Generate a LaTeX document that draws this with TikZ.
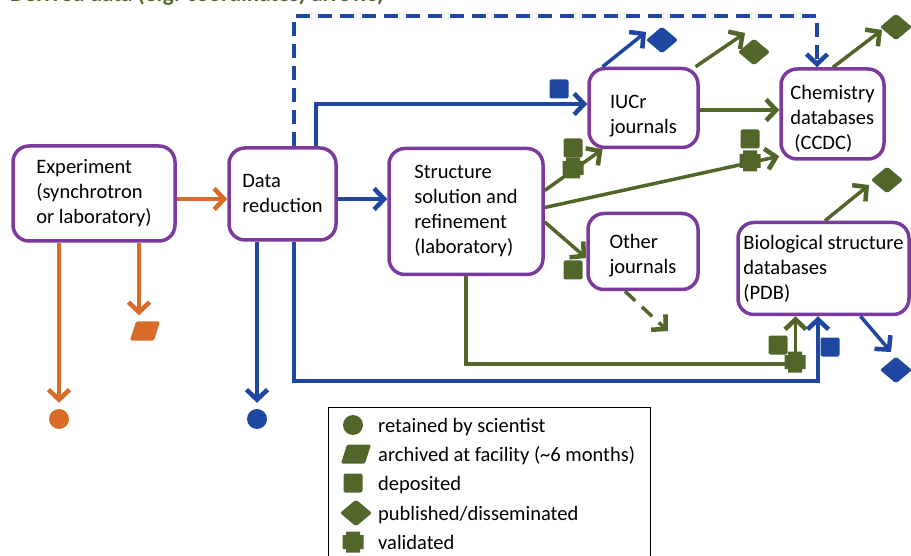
\documentclass[tikz,border=0pt]{standalone}
\usepackage{fontspec}
\setmainfont{Carlito}
\usetikzlibrary{arrows.meta,shapes.geometric}

\definecolor{boxpurple}{HTML}{7B3A9C}
\definecolor{rawor}{HTML}{D96B28}
\definecolor{procblue}{HTML}{1F46A0}
\definecolor{derivgreen}{HTML}{52662A}
\newcommand\boxfont{\fontsize{20.5}{25}\selectfont}

\begin{document}
\begin{tikzpicture}[x=1pt,y=-1pt,
    stage/.style={draw=boxpurple, line width=3.5pt, rounded corners=16pt, align=left, inner sep=0pt, font=\boxfont},
    flow/.style={line width=3.5pt, -{Straight Barb[length=10pt,width=21pt,line width=0pt 1.3]}},
    retained/.style={circle, fill=#1, minimum size=20pt, inner sep=0pt},
    retained/.default=derivgreen,
    archived/.style={rectangle, minimum width=30pt, minimum height=19pt, inner sep=0pt, path picture={
        \fill[#1, rounded corners=1.5pt] ([xshift=-15pt,yshift=-9.5pt]path picture bounding box.center) -- ([xshift=9pt,yshift=-9.5pt]path picture bounding box.center)
              -- ([xshift=15pt,yshift=9.5pt]path picture bounding box.center) -- ([xshift=-9pt,yshift=9.5pt]path picture bounding box.center) -- cycle;}},
    archived/.default=derivgreen,
    deposited/.style={rectangle, fill=#1, minimum size=19pt, inner sep=0pt, rounded corners=2pt},
    deposited/.default=derivgreen,
    published/.style={diamond, fill=#1, minimum width=32pt, minimum height=27pt, inner sep=0pt, rounded corners=2pt},
    published/.default=derivgreen,
    validated/.style={rectangle, minimum size=21pt, inner sep=0pt, path picture={
        \fill[#1] ([xshift=-10.5pt,yshift=-7pt]path picture bounding box.center) rectangle ([xshift=10.5pt,yshift=7pt]path picture bounding box.center)
                  ([xshift=-7pt,yshift=-10.5pt]path picture bounding box.center) rectangle ([xshift=7pt,yshift=10.5pt]path picture bounding box.center);}},
    validated/.default=derivgreen,
    keytext/.style={anchor=base west, inner sep=0pt, font=\boxfont},
  ]
  \useasboundingbox (0,0) rectangle (911,556);
  \clip (0,0) rectangle (911,556);

  % heading, cut off at the top
  \node[anchor=base west, inner sep=0pt, text=derivgreen, font=\fontsize{23}{28}\selectfont\bfseries] (title) at (10,2) {Derived data (e.g. coordinates) arrows)};

  % stages
  \node[stage, minimum width=162pt, minimum height=95pt] (exp) at (94,193.5) {Experiment\\(synchrotron\\or laboratory)};
  \node[stage, minimum width=107pt, minimum height=92pt] (dr) at (282.5,194) {Data\\reduction};
  \node[stage, minimum width=154pt, minimum height=126pt] (st) at (466,211.5) {Structure\\solution and\\refinement\\(laboratory)};
  \node[stage, minimum width=109pt, minimum height=79pt] (iucr) at (643.5,108) {\rule{0pt}{30pt}IUCr\\journals};
  \node[stage, minimum width=103pt, minimum height=90pt] (chem) at (832.5,114) {\rule{0pt}{24pt}Chemistry\\databases\\\hspace*{4pt}(CCDC)};
  \node[stage, minimum width=110pt, minimum height=76pt] (oth) at (643,251.5) {\rule{0pt}{22pt}Other\\journals};
  \node[stage, minimum width=171pt, minimum height=92pt] (bio) at (823.5,268.5) {Biological structure\\databases\\(PDB)};

  % end points
  \node[retained=rawor] (rawkeep) at (59,419) {};
  \node[archived=rawor] (rawarc) at (145,331) {};
  \node[retained=procblue] (prockeep) at (257,419) {};
  \coordinate (iucrtip) at (646,32);
  \coordinate (iucrtipg) at (745,33);
  \coordinate (chemtip) at (882,30);
  \coordinate (biotipg) at (869,185);
  \coordinate (biotipb) at (891,352);
  \coordinate (othtip) at (668,331);

  % raw data
  \draw[flow, rawor] ([yshift=-5.5pt]exp.east) -- ([yshift=-5.5pt]exp.east -| dr.west);
  \draw[flow, rawor, shorten >=6pt] ([xshift=-35pt]exp.south) -- (rawkeep.north);
  \draw[flow, rawor, shorten >=6pt] ([xshift=45pt]exp.south) -- ([xshift=-6pt]rawarc.north);

  % processed data
  \draw[flow, procblue] ([yshift=-5pt]dr.east) -- ([yshift=-5pt]dr.east -| st.west);
  \draw[flow, procblue, shorten >=6pt] ([xshift=-25.5pt]dr.south) -- (prockeep.north);
  \draw[flow, procblue] ([xshift=11.5pt]dr.south) -- ++(0,139) -| ([xshift=-5.5pt]bio.south);
  \draw[flow, procblue] ([xshift=33.5pt]dr.north) |- ([yshift=4pt]iucr.west);
  \draw[flow, procblue, dash pattern=on 14pt off 8pt] ([xshift=11.5pt]dr.north) -- ++(0,-130) -| ([xshift=-15.5pt]chem.north);
  \draw[flow, procblue] ([xshift=-41pt]iucr.north) -- (iucrtip);
  \draw[flow, procblue] ([xshift=37pt]bio.south) -- (biotipb);

  % derived data
  \draw[flow, derivgreen] ([yshift=-2pt]iucr.east) -- ([yshift=-2pt]iucr.east -| chem.west);
  \draw[flow, derivgreen] ([xshift=52pt]iucr.north) -- (iucrtipg);
  \draw[flow, derivgreen] ([xshift=0.5pt]chem.north) -- (chemtip);
  \draw[flow, derivgreen] ([xshift=1.5pt]bio.north) -- (biotipg);
  \draw[flow, derivgreen] ([yshift=21pt]st.east) -- ([xshift=-41pt]iucr.south);
  \draw[flow, derivgreen] ([yshift=4pt]st.east) -- ([yshift=4.5pt]chem.south west);
  \draw[flow, derivgreen] ([yshift=-10.5pt]st.east) -- ([yshift=-6.5pt]oth.west);
  \draw[flow, derivgreen, dash pattern=on 14pt off 9pt] ([xshift=-18pt]oth.south) -- (othtip);
  \draw[flow, derivgreen] (st.south) -- ++(0,87.5) -| ([xshift=-28pt]bio.south);

  % marks on the flows
  \node[deposited=procblue] (dep1) at (559,89) {};
  \node[deposited] (dep2) at (573,148) {};
  \node[validated] (val2) at (573,168) {};
  \node[deposited] (dep3) at (750,139) {};
  \node[validated] (val3) at (750,161) {};
  \node[deposited] (dep4) at (573,270) {};
  \node[deposited] (dep5) at (778,345) {};
  \node[validated] (val5) at (795,362) {};
  \node[deposited=procblue] (dep6) at (830,347) {};
  \node[published=procblue] (pub1) at (662,40) {};
  \node[published] (pub2) at (754,52) {};
  \node[published] (pub3) at (896,27) {};
  \node[published] (pub4) at (887,180) {};
  \node[published=procblue] (pub5) at (896,370) {};

  % key
  \node[draw, line width=1.2pt, anchor=north west, minimum width=322pt, minimum height=170pt, inner sep=0pt] (legend) at (328,407) {};
  \node[retained] (keyret) at (353,425) {};
  \node[archived] (keyarc) at (356,454) {};
  \node[deposited] (keydep) at (353,483) {};
  \node[published] (keypub) at (356,513) {};
  \node[validated] (keyval) at (353,542) {};
  \node[keytext] (keyrett) at (378,432) {retained by scientist};
  \node[keytext] (keyarct) at (378,461) {archived at facility (\textasciitilde 6 months)};
  \node[keytext] (keydept) at (378,490) {deposited};
  \node[keytext] (keypubt) at (378,520) {published/disseminated};
  \node[keytext] (keyvalt) at (378,549) {validated};
\end{tikzpicture}
\end{document}
